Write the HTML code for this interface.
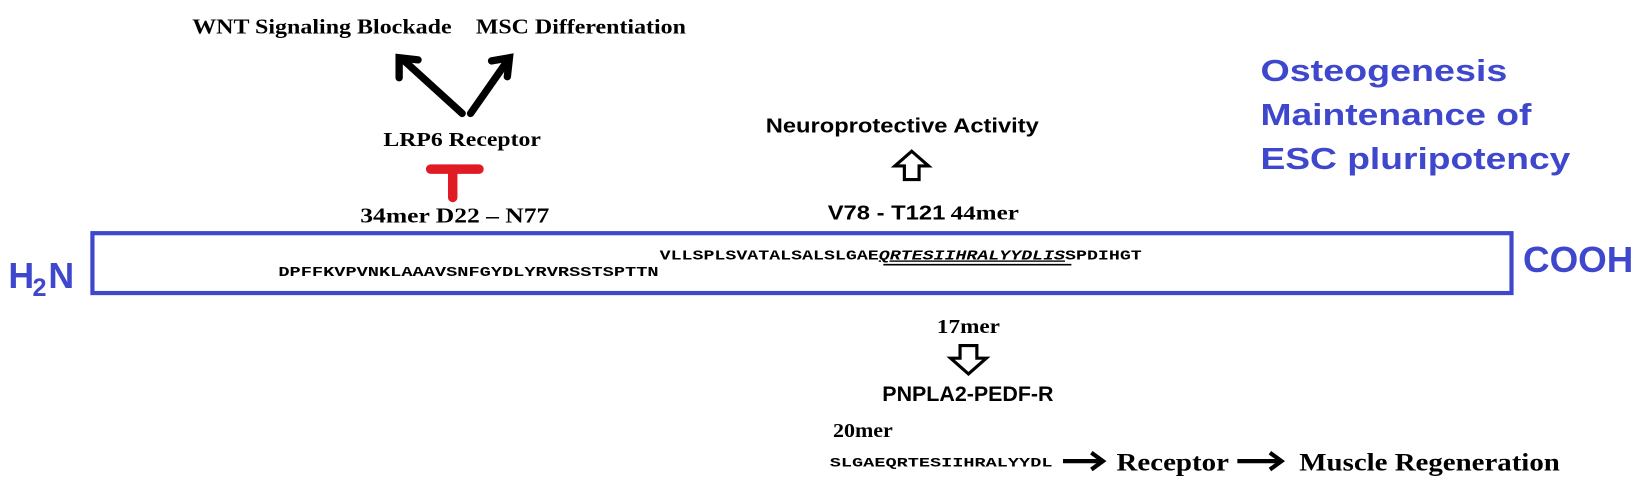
<!DOCTYPE html>
<html><head><meta charset="utf-8"><style>
html,body{margin:0;padding:0;background:#fff;}
svg{display:block;}
.s{font-family:"Liberation Serif",serif;font-weight:bold;}
.a{font-family:"Liberation Sans",sans-serif;font-weight:bold;}
.m{font-family:"Liberation Mono",monospace;font-weight:bold;}
</style></head><body>
<svg width="1647" height="486" viewBox="0 0 1568 462.7" preserveAspectRatio="none" xmlns="http://www.w3.org/2000/svg">
<text class="s" x="183" y="32" font-size="20" textLength="247" lengthAdjust="spacingAndGlyphs">WNT Signaling Blockade</text>
<text class="s" x="453" y="32" font-size="20" textLength="200" lengthAdjust="spacingAndGlyphs">MSC Differentiation</text>
<g stroke="#000" stroke-width="7" stroke-linecap="round" fill="none">
<line x1="440" y1="108" x2="385" y2="58"/>
<polyline points="380,74 380,55 398,57"/>
<line x1="448" y1="108" x2="483" y2="58"/>
<polyline points="468,58 485,55 483,73"/>
</g>
<text class="s" x="365" y="139" font-size="19" textLength="150" lengthAdjust="spacingAndGlyphs">LRP6 Receptor</text>
<g stroke="#e01b24" stroke-width="9" stroke-linecap="round">
<line x1="410" y1="161" x2="456" y2="161"/>
<line x1="431" y1="161" x2="431" y2="188"/>
</g>
<text class="s" x="343" y="212" font-size="20" textLength="180" lengthAdjust="spacingAndGlyphs">34mer  D22 – N77</text>
<text class="a" x="729" y="126" font-size="19" textLength="260" lengthAdjust="spacingAndGlyphs">Neuroprotective Activity</text>
<polygon points="868,144 884,158 875,158 875,171 861,171 861,158 852,158" fill="none" stroke="#000" stroke-width="3"/>
<text class="a" x="788" y="209" font-size="19" textLength="112" lengthAdjust="spacingAndGlyphs">V78 - T121</text>
<text class="s" x="905" y="209" font-size="19" textLength="65" lengthAdjust="spacingAndGlyphs">44mer</text>
<text class="a" x="1200" y="77" font-size="29" fill="#3f48cc" textLength="235" lengthAdjust="spacingAndGlyphs">Osteogenesis</text>
<text class="a" x="1200" y="119" font-size="29" fill="#3f48cc" textLength="258" lengthAdjust="spacingAndGlyphs">Maintenance of</text>
<text class="a" x="1200" y="161" font-size="29" fill="#3f48cc" textLength="295" lengthAdjust="spacingAndGlyphs">ESC pluripotency</text>
<rect x="88" y="222" width="1351" height="57" fill="none" stroke="#3f48cc" stroke-width="4"/>
<text class="a" x="8" y="274" font-size="34" fill="#3f48cc">H</text>
<text class="a" x="31" y="282" font-size="24" fill="#3f48cc">2</text>
<text class="a" x="46" y="274" font-size="34" fill="#3f48cc">N</text>
<text class="a" x="1450" y="259" font-size="34" fill="#3f48cc" textLength="105" lengthAdjust="spacingAndGlyphs">COOH</text>
<text class="m" x="628" y="247" font-size="13" textLength="459" lengthAdjust="spacingAndGlyphs">VLLSPLSVATALSALSLGAE<tspan font-style="italic" text-decoration="underline">QRTESIIHRALYYDLIS</tspan>SPDIHGT</text>
<line x1="841" y1="252" x2="1020" y2="252" stroke="#000" stroke-width="1.5"/>
<text class="m" x="265" y="263" font-size="13" textLength="362" lengthAdjust="spacingAndGlyphs">DPFFKVPVNKLAAAVSNFGYDLYRVRSSTSPTTN</text>
<text class="s" x="892" y="317" font-size="19" textLength="60" lengthAdjust="spacingAndGlyphs">17mer</text>
<polygon points="922,356 939,341 930,341 930,329 914,329 914,341 905,341" fill="none" stroke="#000" stroke-width="3"/>
<text class="a" x="840" y="382" font-size="20" textLength="163" lengthAdjust="spacingAndGlyphs">PNPLA2-PEDF-R</text>
<text class="s" x="793" y="416" font-size="19" textLength="57" lengthAdjust="spacingAndGlyphs">20mer</text>
<text class="m" x="790" y="444" font-size="12" textLength="212" lengthAdjust="spacingAndGlyphs">SLGAEQRTESIIHRALYYDL</text>
<g stroke="#000" stroke-width="4" fill="none">
<line x1="1012" y1="439" x2="1048" y2="439"/>
<polyline points="1039,431 1050,439 1039,447"/>
<line x1="1178" y1="439" x2="1218" y2="439"/>
<polyline points="1209,431 1220,439 1209,447"/>
</g>
<text class="s" x="1063" y="448" font-size="24" textLength="107" lengthAdjust="spacingAndGlyphs">Receptor</text>
<text class="s" x="1237" y="448" font-size="24" textLength="248" lengthAdjust="spacingAndGlyphs">Muscle Regeneration</text>
</svg>
</body></html>
